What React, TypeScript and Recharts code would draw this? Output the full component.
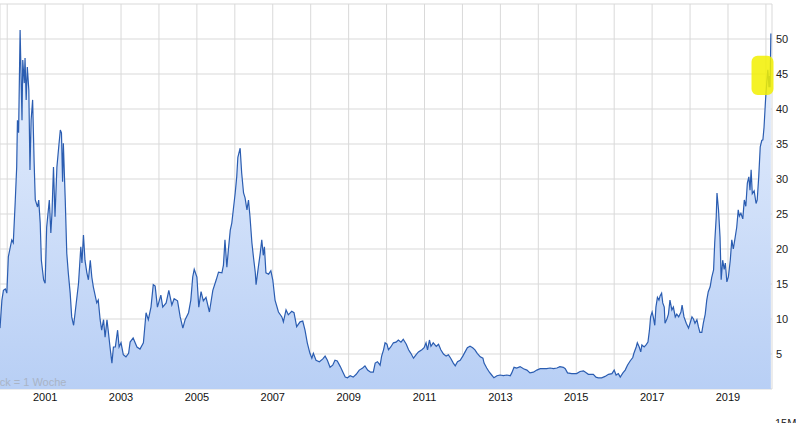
import React from 'react';
import { ComposedChart, Area, XAxis, YAxis, CartesianGrid, ReferenceArea } from 'recharts';

// weekly close (decimal year, price)
const dates = [
  1999.81, 1999.86, 1999.9, 1999.95, 1999.99, 2000.03, 2000.12, 2000.16, 2000.21, 2000.25,
  2000.27, 2000.3, 2000.34, 2000.39, 2000.41, 2000.45, 2000.47, 2000.5, 2000.53, 2000.57,
  2000.6, 2000.63, 2000.67, 2000.71, 2000.74, 2000.8, 2000.83, 2000.87, 2000.9, 2000.96,
  2001.0, 2001.04, 2001.11, 2001.15, 2001.18, 2001.22, 2001.26, 2001.31, 2001.35, 2001.4,
  2001.43, 2001.46, 2001.48, 2001.53, 2001.57, 2001.61, 2001.66, 2001.7, 2001.75, 2001.79,
  2001.88, 2001.94, 2001.97, 2002.01, 2002.05, 2002.1, 2002.14, 2002.19, 2002.23, 2002.27,
  2002.36, 2002.4, 2002.45, 2002.49, 2002.54, 2002.58, 2002.63, 2002.67, 2002.71, 2002.76,
  2002.8, 2002.85, 2002.91, 2002.95, 2003.0, 2003.06, 2003.13, 2003.2, 2003.24, 2003.32,
  2003.42, 2003.5, 2003.59, 2003.66, 2003.72, 2003.79, 2003.85, 2003.9, 2003.96, 2004.05,
  2004.1, 2004.19, 2004.26, 2004.34, 2004.4, 2004.49, 2004.56, 2004.63, 2004.69, 2004.78,
  2004.84, 2004.89, 2004.93, 2005.0, 2005.05, 2005.11, 2005.17, 2005.24, 2005.33, 2005.42,
  2005.51, 2005.57, 2005.66, 2005.7, 2005.74, 2005.79, 2005.83, 2005.88, 2005.92, 2005.96,
  2006.01, 2006.05, 2006.08, 2006.14, 2006.18, 2006.23, 2006.27, 2006.32, 2006.36, 2006.4,
  2006.45, 2006.49, 2006.54, 2006.56, 2006.62, 2006.67, 2006.71, 2006.75, 2006.78, 2006.82,
  2006.89, 2006.95, 2007.0, 2007.06, 2007.15, 2007.24, 2007.28, 2007.35, 2007.41, 2007.5,
  2007.56, 2007.63, 2007.72, 2007.79, 2007.85, 2007.91, 2007.98, 2008.03, 2008.07, 2008.14,
  2008.23, 2008.32, 2008.38, 2008.44, 2008.51, 2008.58, 2008.64, 2008.7, 2008.78, 2008.85,
  2008.91, 2008.97, 2009.04, 2009.12, 2009.2, 2009.28, 2009.37, 2009.43, 2009.5, 2009.58,
  2009.65, 2009.7, 2009.76, 2009.83, 2009.87, 2009.92, 2009.96, 2010.01, 2010.05, 2010.11,
  2010.18, 2010.25, 2010.31, 2010.38, 2010.44, 2010.52, 2010.58, 2010.64, 2010.71, 2010.78,
  2010.84, 2010.93, 2010.99, 2011.04, 2011.08, 2011.13, 2011.17, 2011.23, 2011.31, 2011.37,
  2011.43, 2011.5, 2011.57, 2011.63, 2011.69, 2011.76, 2011.81, 2011.87, 2011.94, 2012.01,
  2012.07, 2012.13, 2012.2, 2012.27, 2012.33, 2012.39, 2012.47, 2012.54, 2012.57, 2012.64,
  2012.71, 2012.77, 2012.83, 2012.91, 2012.99, 2013.08, 2013.17, 2013.26, 2013.3, 2013.36,
  2013.43, 2013.52, 2013.61, 2013.7, 2013.78, 2013.87, 2013.96, 2014.05, 2014.13, 2014.22,
  2014.31, 2014.4, 2014.49, 2014.57, 2014.66, 2014.71, 2014.77, 2014.88, 2015.01, 2015.1,
  2015.19, 2015.32, 2015.45, 2015.52, 2015.58, 2015.67, 2015.76, 2015.85, 2015.94, 2016.0,
  2016.05, 2016.11, 2016.16, 2016.23, 2016.29, 2016.35, 2016.42, 2016.49, 2016.52, 2016.58,
  2016.61, 2016.66, 2016.7, 2016.73, 2016.79, 2016.84, 2016.89, 2016.93, 2016.96, 2017.0,
  2017.03, 2017.07, 2017.1, 2017.14, 2017.18, 2017.21, 2017.25, 2017.28, 2017.32, 2017.34,
  2017.39, 2017.43, 2017.47, 2017.52, 2017.56, 2017.61, 2017.65, 2017.7, 2017.76, 2017.79,
  2017.84, 2017.9, 2017.96, 2018.0, 2018.05, 2018.09, 2018.13, 2018.18, 2018.22, 2018.26,
  2018.31, 2018.35, 2018.4, 2018.44, 2018.48, 2018.53, 2018.57, 2018.62, 2018.65, 2018.69,
  2018.71, 2018.75, 2018.79, 2018.82, 2018.86, 2018.9, 2018.93, 2018.97, 2019.01, 2019.06,
  2019.1, 2019.14, 2019.19, 2019.23, 2019.27, 2019.3, 2019.34, 2019.39, 2019.43, 2019.47,
  2019.51, 2019.55, 2019.58, 2019.61, 2019.64, 2019.69, 2019.74, 2019.77, 2019.81, 2019.85,
  2019.89, 2019.92, 2019.95, 2019.99, 2020.02, 2020.05, 2020.08, 2020.09, 2020.11, 2020.13,
];

const prices = [
  8.7, 12.7, 14.1, 14.3, 13.7, 18.9, 21.3, 20.9, 26.6, 31.7,
  38.4, 36.6, 51.3, 38.4, 47, 43.7, 47.3, 41.3, 46, 42.7,
  31.3, 38.4, 41.3, 32.3, 27, 26, 27, 23.7, 18.4, 15.6,
  15.1, 23.1, 27, 22.3, 25.1, 31.7, 24.6, 31.7, 34.1, 37,
  36.6, 29.6, 35.1, 27, 19.4, 16.6, 13.7, 10.3, 9.1, 10.9,
  15.1, 20.3, 18, 22, 18.4, 16.6, 15.6, 18.4, 16, 14.6,
  12.3, 12.7, 9.9, 8.4, 9.9, 7.4, 9.9, 8, 6, 3.7,
  6, 6, 8.4, 6, 6.6, 4.9, 4.6, 5.1, 6.7, 7.3,
  6, 5.7, 6.6, 10.9, 9.9, 11.7, 14.9, 14.7, 11.7, 13.4,
  11.7, 12.3, 14.1, 12, 12.9, 12.6, 10.3, 8.7, 9.9, 10.9,
  12.7, 16, 17.1, 16, 11.7, 13.9, 12.6, 13.1, 11, 14.1,
  15.6, 16.7, 16.6, 17.7, 21.3, 17.4, 19.9, 22.7, 23.7, 25.6,
  28, 30.3, 33.1, 34.4, 30.9, 28, 27.3, 25.6, 27, 24.6,
  20.9, 18.9, 16.6, 14.9, 17.4, 19.4, 21.3, 19.1, 20.3, 16.6,
  16.4, 16.9, 15.6, 12.7, 11, 10.3, 9.6, 11.3, 10.6, 11.1,
  10.9, 8.9, 9.6, 9.7, 8.4, 6.6, 5.1, 4.4, 5.1, 4.1,
  3.9, 4.3, 4.7, 4.1, 3.1, 3.4, 4.1, 4, 3.2, 2.4,
  1.7, 1.6, 1.9, 1.7, 2.1, 2.7, 3, 3.3, 2.7, 2.4,
  2.4, 3.7, 3.9, 3.4, 4.7, 5.6, 6.6, 6.4, 5.6, 6,
  6.6, 6.7, 7, 6.7, 7.1, 6.4, 5.6, 5.1, 4.4, 4.9,
  5.3, 5.6, 5.9, 6.6, 5.6, 7, 6.1, 6.6, 6.1, 6.4,
  5.6, 5, 4.7, 4.9, 4.4, 3.7, 3.3, 3.9, 4.1, 4.7,
  5.3, 5.9, 6.1, 5.9, 5.6, 5.1, 4.6, 4.4, 3.7, 3,
  2.4, 2, 1.6, 1.9, 2, 1.9, 2, 1.9, 2.3, 3.1,
  3, 3.2, 2.9, 2.7, 2.3, 2.4, 2.7, 2.9, 2.9, 2.9,
  3, 2.9, 3, 3.2, 3.1, 2.9, 2.3, 2.2, 2.2, 2.5,
  2.6, 2.1, 2.1, 1.7, 1.6, 1.6, 1.8, 2.1, 2.2, 2.7,
  2, 2.2, 1.7, 2.3, 2.7, 3.4, 4, 4.5, 5.1, 6,
  6.6, 6, 5.3, 6.3, 6, 6.3, 6.7, 8.4, 10.3, 11,
  10.3, 9.1, 11.7, 13.1, 12.7, 13.3, 13.7, 12.3, 11.7, 9.4,
  10, 10.7, 12.7, 11.3, 11.7, 10.3, 10.7, 10.3, 11, 12,
  10.3, 9.4, 8.7, 9.4, 10.3, 10, 9.4, 9.9, 8.9, 8.1,
  8.1, 9.4, 10.7, 12.7, 13.9, 14.6, 15.9, 17, 20.9, 24.6,
  28, 25.6, 21.7, 15.6, 18.4, 17.1, 18, 15.3, 16, 18.4,
  21.3, 20, 21.7, 23.1, 25.6, 24.7, 25.1, 24.3, 27, 26.1,
  29.4, 30.3, 28.4, 31.3, 27.9, 28.3, 26.5, 27, 30.3, 34.6,
  35.5, 35.6, 37.4, 41.3, 43.7, 45.6, 43.1, 44.7, 43.1, 50.8,
];

const yearTicks = [2000, 2001, 2002, 2003, 2004, 2005, 2006, 2007, 2008, 2009, 2010,
  2011, 2012, 2013, 2014, 2015, 2016, 2017, 2018, 2019, 2020];
const priceTicks = [0, 5, 10, 15, 20, 25, 30, 35, 40, 45, 50, 55];

const data = dates.map((d, i) => ({ date: d, price: prices[i] }));

const App: React.FC = () => {
  return (
    <div style={{ position: 'absolute', left: 0, top: 0, width: 796, height: 423, overflow: 'hidden', background: '#fff', fontFamily: '"Liberation Sans", Arial, sans-serif' }}>
      <ComposedChart width={796} height={423} data={data} margin={{ top: 4, right: 0, bottom: 0, left: 0 }}>
        <defs>
          <linearGradient id="fillBlue" x1="0" y1="0" x2="0" y2="1">
            <stop offset="0%" stopColor="#e8f0fd" />
            <stop offset="100%" stopColor="#b8cff5" />
          </linearGradient>
        </defs>
        <CartesianGrid stroke="#d9d9d9" strokeWidth={1} />
        <XAxis
          dataKey="date"
          type="number"
          domain={[1999.81, 2020.16]}
          ticks={yearTicks}
          tickFormatter={(v: number) => (v % 2 === 1 ? String(v) : '')}
          axisLine={false}
          tickLine={false}
          tickSize={0}
          tickMargin={4}
          height={34}
          tick={{ fill: '#111', fontSize: 11 }}
          allowDataOverflow
        />
        <YAxis
          orientation="right"
          domain={[0, 55]}
          ticks={priceTicks}
          tickFormatter={(v: number) => (v === 0 || v === 55 ? '' : String(v))}
          axisLine={false}
          tickLine={false}
          tickSize={0}
          tickMargin={4}
          width={24}
          tick={{ fill: '#222', fontSize: 11, textAnchor: 'start' }}
          allowDataOverflow
        />
        <Area
          type="linear"
          dataKey="price"
          stroke="#2b5db1"
          strokeWidth={1.2}
          fill="url(#fillBlue)"
          fillOpacity={1}
          dot={false}
          activeDot={false}
          isAnimationActive={false}
        />
        <ReferenceArea
          x1={2019.62}
          x2={2020.2}
          y1={42}
          y2={47.6}
          fill="#f2f000"
          fillOpacity={0.85}
          stroke="none"
          radius={6}
          ifOverflow="visible"
        />
      </ComposedChart>
      <div style={{ position: 'absolute', left: -18, top: 376, fontSize: 11, color: '#a9b4c6', whiteSpace: 'nowrap' }}>
        1 Tick = 1 Woche
      </div>
      <div style={{ position: 'absolute', left: 775, top: 417, fontSize: 11, color: '#222', whiteSpace: 'nowrap' }}>
        15M
      </div>
    </div>
  );
};

export default App;
